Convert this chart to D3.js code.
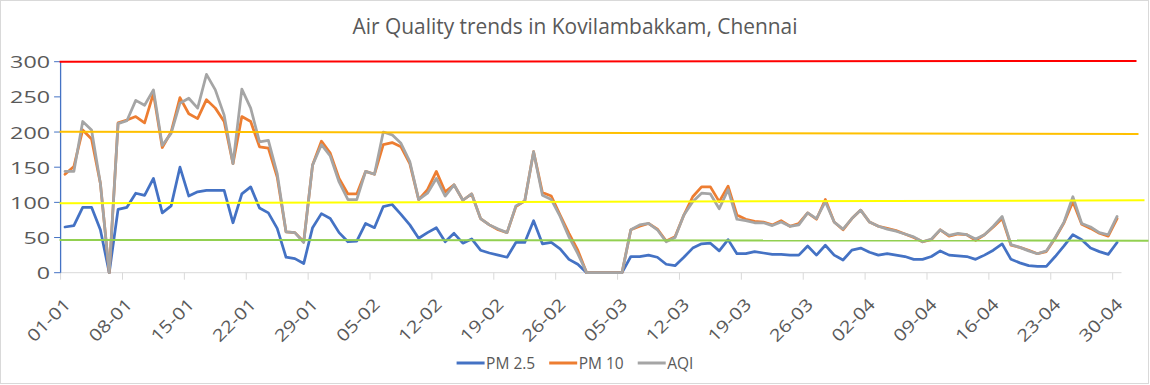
<!DOCTYPE html>
<html>
<head>
<meta charset="utf-8">
<script src="https://cdn.jsdelivr.net/npm/d3@7"></script>
<style>
  body { margin: 0; background: #fff; }
  text { font-family: "Open Sans", sans-serif; fill: #595959; }
</style>
</head>
<body>
<svg id="chart" width="1150" height="385"></svg>
<script>
// Daily values, 01-01 to 30-04 (120 days)
const pm25 = [65, 67, 93, 93, 61, 0, 90, 93, 113, 110, 134, 85, 95, 150, 109, 115, 117, 117, 117, 71,
  112, 122, 92, 85, 63, 22, 20, 13, 64, 84, 77, 57, 44, 45, 70, 64, 94, 97, 83, 68,
  49, 57, 64, 44, 56, 42, 48, 32, 28, 25, 22, 43, 43, 74, 41, 43, 34, 19, 12, 0,
  0, 0, 0, 0, 23, 23, 25, 22, 12, 10, 22, 35, 41, 42, 31, 47, 27, 27, 30, 28,
  26, 26, 25, 25, 38, 25, 39, 25, 18, 32, 35, 29, 25, 27, 25, 23, 19, 19, 23, 31,
  25, 24, 23, 19, 25, 32, 41, 19, 14, 10, 9, 9, 23, 38, 54, 47, 35, 30, 26, 43];

const pm10 = [140, 151, 203, 190, 127, 0, 213, 217, 222, 213, 255, 178, 200, 249, 226, 219, 246, 234, 215, 155,
  222, 215, 179, 177, 136, 58, 57, 44, 153, 187, 170, 134, 112, 112, 144, 140, 182, 185, 179, 155,
  104, 118, 144, 115, 125, 103, 112, 77, 68, 61, 57, 94, 102, 172, 114, 109, 82, 56, 32, 0,
  0, 0, 0, 0, 61, 66, 70, 62, 45, 51, 82, 108, 122, 122, 101, 123, 82, 76, 73, 72,
  68, 74, 66, 70, 85, 76, 104, 72, 61, 77, 89, 72, 66, 63, 60, 55, 50, 44, 47, 61,
  52, 55, 54, 46, 54, 65, 77, 39, 36, 32, 27, 30, 49, 71, 101, 69, 63, 56, 52, 77];

const aqi = [144, 144, 215, 203, 127, 0, 212, 216, 245, 238, 260, 181, 198, 241, 248, 234, 282, 260, 224, 155,
  261, 234, 186, 188, 141, 58, 57, 43, 153, 182, 166, 129, 104, 104, 144, 140, 200, 196, 184, 158,
  104, 113, 134, 109, 125, 103, 112, 77, 68, 62, 57, 95, 102, 172, 110, 104, 80, 51, 27, 0,
  0, 0, 0, 0, 61, 68, 70, 61, 44, 50, 82, 101, 113, 112, 91, 118, 76, 74, 71, 71,
  67, 72, 66, 68, 85, 77, 101, 72, 62, 77, 89, 72, 66, 62, 59, 55, 51, 44, 48, 61,
  53, 56, 54, 48, 54, 66, 80, 40, 36, 31, 27, 31, 50, 72, 108, 70, 65, 57, 54, 80];

const seriesNames = ["PM 2.5", "PM 10", "AQI"];
const seriesColors = ["#4472C4", "#ED7D31", "#A5A5A5"];

// one label every 7 days
const tickLabels = ["01-01", "08-01", "15-01", "22-01", "29-01", "05-02", "12-02", "19-02", "26-02",
  "05-03", "12-03", "19-03", "26-03", "02-04", "09-04", "16-04", "23-04", "30-04"];
const yTicks = [0, 50, 100, 150, 200, 250, 300];

// hand drawn threshold lines (value at left end, value at right end)
const refStart = [300, 200.5, 98.7, 46.5];
const refEnd = [301, 197.2, 102.9, 45.5];
const refColors = ["#FF0000", "#FFC000", "#FFFF00", "#92D050"];
const refOverhang = [15, 17, 23, 27];

const svg = d3.select("#chart");
const plot = { left: 60.6, right: 1121.5, top: 61.7, bottom: 272.7 };

svg.append("rect")
  .attr("x", 0.5).attr("y", 0.5)
  .attr("width", 1148).attr("height", 383)
  .attr("fill", "#fff").attr("stroke", "#D9D9D9");

const x = d3.scaleBand()
  .domain(d3.range(pm25.length))
  .range([plot.left, plot.right])
  .padding(0);
const bw = x.bandwidth();

const y = d3.scaleLinear()
  .domain([0, 300])
  .range([plot.bottom, plot.top]);

// title
svg.append("text")
  .attr("x", 575).attr("y", 34)
  .attr("text-anchor", "middle")
  .attr("font-size", 21)
  .attr("textLength", 445)
  .attr("lengthAdjust", "spacingAndGlyphs")
  .text("Air Quality trends in Kovilambakkam, Chennai");

// x axis
const xAxis = svg.append("g");
xAxis.append("line")
  .attr("x1", plot.left).attr("x2", plot.right)
  .attr("y1", plot.bottom).attr("y2", plot.bottom)
  .attr("stroke", "#D9D9D9");
xAxis.selectAll(".tick")
  .data(tickLabels)
  .enter()
  .append("line")
  .attr("x1", (d, i) => x(i * 7))
  .attr("x2", (d, i) => x(i * 7))
  .attr("y1", plot.bottom).attr("y2", plot.bottom + 7)
  .attr("stroke", "#D9D9D9");
xAxis.selectAll(".xlab")
  .data(tickLabels)
  .enter()
  .append("text")
  .attr("transform", (d, i) => `translate(${x(i * 7) + bw / 2 + 2},301) rotate(-45)`)
  .attr("text-anchor", "end")
  .attr("dominant-baseline", "central")
  .attr("font-size", 17)
  .attr("textLength", 53)
  .attr("lengthAdjust", "spacingAndGlyphs")
  .text(d => d);

// y axis
const yAxis = svg.append("g");
yAxis.append("line")
  .attr("x1", plot.left).attr("x2", plot.left)
  .attr("y1", plot.bottom).attr("y2", plot.top)
  .attr("stroke", "#4472C4").attr("stroke-width", 1.3);
yAxis.selectAll(".ytick")
  .data(yTicks)
  .enter()
  .append("line")
  .attr("x1", plot.left - 6.5).attr("x2", plot.left)
  .attr("y1", d => y(d)).attr("y2", d => y(d))
  .attr("stroke", "#4472C4");
yAxis.selectAll(".ylab")
  .data(yTicks)
  .enter()
  .append("text")
  .attr("x", 50)
  .attr("y", d => y(d))
  .attr("text-anchor", "end")
  .attr("dominant-baseline", "central")
  .attr("font-size", 16.5)
  .attr("textLength", d => String(d).length * 13.3)
  .attr("lengthAdjust", "spacingAndGlyphs")
  .text(d => d);

// data lines
const line = d3.line()
  .x((d, i) => x(i) + bw / 2)
  .y(d => y(d));

[pm25, pm10, aqi].forEach((values, k) => {
  svg.append("path")
    .datum(values)
    .attr("d", line)
    .attr("fill", "none")
    .attr("stroke", seriesColors[k])
    .attr("stroke-width", 2.75)
    .attr("stroke-linejoin", "round")
    .attr("stroke-linecap", "round");
});

// threshold lines
svg.append("g")
  .selectAll("line")
  .data(refStart)
  .enter()
  .append("line")
  .attr("x1", plot.left - 1)
  .attr("x2", (d, i) => plot.right + refOverhang[i])
  .attr("y1", d => y(d))
  .attr("y2", (d, i) => y(refEnd[i]))
  .attr("stroke", (d, i) => refColors[i])
  .attr("stroke-width", 2);

// legend
const legend = svg.append("g");
let lx = 0;
seriesNames.forEach((name, k) => {
  const g = legend.append("g");
  g.append("line")
    .attr("x1", 0).attr("x2", 28)
    .attr("y1", 363).attr("y2", 363)
    .attr("stroke", seriesColors[k])
    .attr("stroke-width", 3);
  const t = g.append("text")
    .attr("x", 29.5).attr("y", 368.5)
    .attr("font-size", 15.5)
    .text(name);
  const w = 29.5 + t.node().getComputedTextLength();
  g.attr("transform", `translate(${lx},0)`);
  lx += w + 14;
});
const total = lx - 14;
legend.attr("transform", `translate(${575 - total / 2},0)`);
</script>
</body>
</html>
